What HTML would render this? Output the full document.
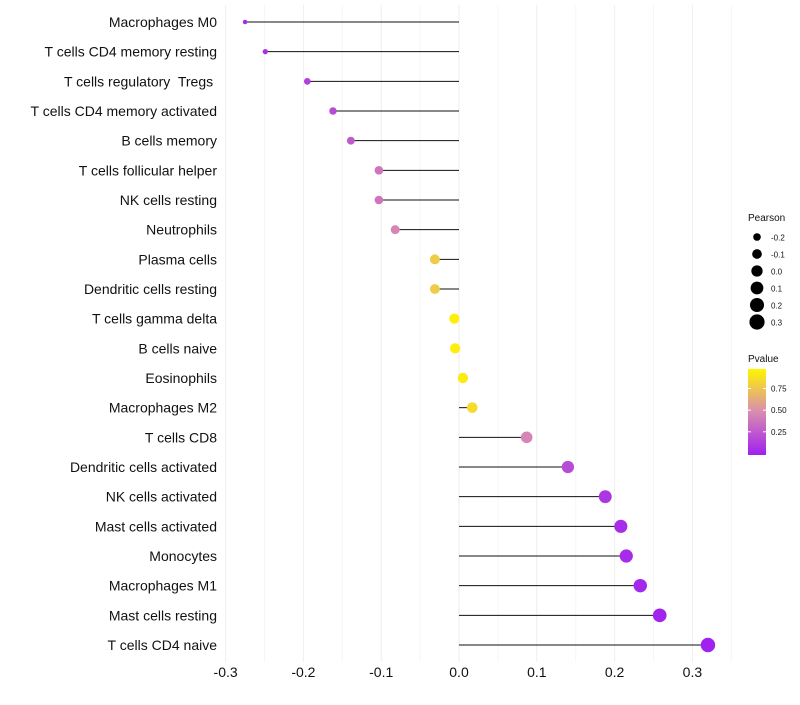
<!DOCTYPE html>
<html><head><meta charset="utf-8"><style>
body{margin:0;background:#fff;font-family:"Liberation Sans",sans-serif;}
text{white-space:pre;}
</style></head><body>
<svg id="chart" width="800" height="700"></svg>
<script>
const categories=["Macrophages M0","T cells CD4 memory resting","T cells regulatory  Tregs ","T cells CD4 memory activated","B cells memory","T cells follicular helper","NK cells resting","Neutrophils","Plasma cells","Dendritic cells resting","T cells gamma delta","B cells naive","Eosinophils","Macrophages M2","T cells CD8","Dendritic cells activated","NK cells activated","Mast cells activated","Monocytes","Macrophages M1","Mast cells resting","T cells CD4 naive"];
const pearson=[-0.275,-0.249,-0.195,-0.162,-0.139,-0.103,-0.103,-0.082,-0.031,-0.031,-0.006,-0.005,0.005,0.017,0.087,0.140,0.188,0.208,0.215,0.233,0.258,0.320];
const pvalue=[0.05,0.08,0.15,0.2,0.28,0.4,0.4,0.47,0.8,0.8,0.97,0.97,0.95,0.88,0.47,0.2,0.1,0.06,0.05,0.04,0.02,0.005];
const xTicks=[-0.3,-0.2,-0.1,0.0,0.1,0.2,0.3];
const xTickLabels=["-0.3","-0.2","-0.1","0.0","0.1","0.2","0.3"];
const sizeLegend=[-0.2,-0.1,0.0,0.1,0.2,0.3];
const colorLegend=[0.25,0.50,0.75];

const NS="http://www.w3.org/2000/svg";
const svg=document.getElementById('chart');
const X=v=>459+(v-0)*778;
const Y=i=>22+i*(623/21);
const R=v=>Math.sqrt(3+(v+0.3)*(52-3)/0.62);
function lerp(a,b,t){return a.map((c,i)=>Math.round(c+(b[i]-c)*t));}
function col(p){const s=[[160,32,240],[216,140,176],[255,245,0]];let c=p<0.5?lerp(s[0],s[1],p/0.5):lerp(s[1],s[2],(p-0.5)/0.5);return `rgb(${c})`;}
function el(t,a,p){const e=document.createElementNS(NS,t);for(const k in a)e.setAttribute(k,a[k]);(p||svg).appendChild(e);return e;}

for(let v=-0.3;v<=0.3501;v+=0.05){
  const g=el('line',{x1:X(v),x2:X(v),y1:5,y2:662,stroke:Math.abs(Math.round(v*20))%2?'#f6f6f6':'#eeeeee','stroke-width':1});
  
  
}
xTicks.forEach((v,i)=>{
  const t=el('text',{x:X(v),y:677,'text-anchor':'middle','font-size':14,fill:'#111'});
  t.textContent=xTickLabels[i];
  
  
});
categories.forEach((c,i)=>{
  const t=el('text',{x:217,y:Y(i)+5,'text-anchor':'end','font-size':14,fill:'#111'});
  t.textContent=c;
  
  
  const l=el('line',{x1:X(0),x2:X(pearson[i]),y1:Y(i),y2:Y(i),stroke:'#111','stroke-width':1});
  
  
  const p=el('circle',{cx:X(pearson[i]),cy:Y(i),r:R(pearson[i]),fill:col(pvalue[i])});
  
  
});
let t=el('text',{x:748,y:221,'font-size':10,fill:'#111'});t.textContent='Pearson';


sizeLegend.forEach((v,i)=>{
  const y=237+i*17;
  const c=el('circle',{cx:757,cy:y,r:R(v)+0.5,fill:'#000'});
  
  
  const tx=el('text',{x:771,y:y+3.5,'font-size':8,fill:'#111'});tx.textContent=v.toFixed(1);
  
  
});
t=el('text',{x:748,y:362,'font-size':10,fill:'#111'});t.textContent='Pvalue';


const defs=el('defs',{});
const gr=el('linearGradient',{id:'pg',x1:0,y1:1,x2:0,y2:0},defs);
[0,0.25,0.5,0.75,1].forEach(o=>el('stop',{offset:o,'stop-color':col(o)},gr));
const bar=el('rect',{x:748,y:369,width:18,height:86,fill:'url(#pg)'});


colorLegend.forEach(p=>{
  const y=453-(p-0.005)/0.97*84;
  el('line',{x1:748,x2:751,y1:y,y2:y,stroke:'#fff'});el('line',{x1:763,x2:766,y1:y,y2:y,stroke:'#fff'});
  const tx=el('text',{x:771,y:y+3,'font-size':8,fill:'#111'});tx.textContent=p.toFixed(2);
  
  
});
</script>
</body></html>
